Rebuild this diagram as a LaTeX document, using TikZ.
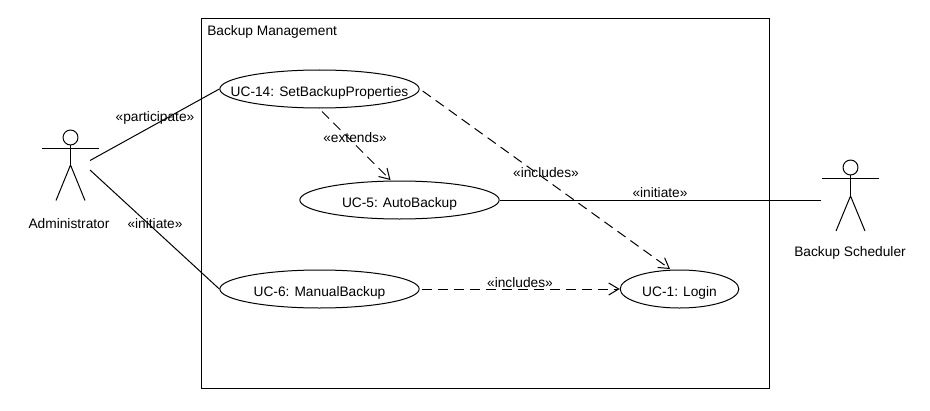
\documentclass[tikz,border=0pt]{standalone}
\usepackage{fontspec}
\setmainfont{Liberation Sans}
\usetikzlibrary{shapes.geometric,arrows.meta}
\tikzset{
  uc/.style={draw=black,ellipse,line width=0.75pt,inner xsep=-30pt,inner ysep=-12pt,minimum width=149.5pt,minimum height=28.5pt,text height=11.5pt,text depth=1pt,font=\fontsize{10.3}{12}\selectfont},
  lbl/.style={inner sep=0pt,yshift=-0.3pt,font=\fontsize{10.3}{12}\selectfont},
  assoc/.style={draw=black,line width=0.75pt},
  dep/.style={draw=black,line width=0.75pt,dash pattern=on 7.5pt off 4.5pt,-{Straight Barb[length=7.5pt,width=9pt,line width=0.75pt]}},
  stick/.style={draw=black,line width=0.75pt},
}
\begin{document}
\begin{tikzpicture}[x=0.75pt,y=-0.75pt]
\useasboundingbox (0,0) rectangle (930,410);
\fill[white] (0,0) rectangle (930,410);
% system boundary
\node[draw=black,line width=0.75pt,minimum width=426.4pt,minimum height=276.8pt,inner sep=0pt] (sys) at (485.3,203.5) {};
\node[lbl,anchor=west] (title) at (207,32) {Backup Management};
% use cases
\node[uc] (uc14) at (319.5,89) {UC-14: SetBackupProperties};
\node[uc] (uc5) at (399.5,200) {UC-5: AutoBackup};
\node[uc] (uc6) at (319.5,289) {UC-6: ManualBackup};
\node[uc,minimum width=89pt] (uc1) at (679.5,289) {UC-1: Login};
% left actor
\node[draw=black,circle,line width=0.75pt,inner sep=0pt,minimum size=11.2pt] (adminhead) at (70.5,137.5) {};
\coordinate (adminhip) at (70.5,165);
\draw[stick] (adminhead.south) -- (adminhip);
\draw[stick] (42,148) -- (99,148);
\draw[stick] (56,200.5) -- (adminhip) -- (85,200.5);
\node[lbl] (admin) at (69,223) {Administrator};
\coordinate (adminA) at (90,160.5);
\coordinate (adminB) at (90,170);
% right actor
\node[draw=black,circle,line width=0.75pt,inner sep=0pt,minimum size=11.2pt] (schedhead) at (850.5,167.5) {};
\coordinate (schedhip) at (850.5,196);
\draw[stick] (schedhead.south) -- (schedhip);
\draw[stick] (822,178) -- (879,178);
\draw[stick] (836,231) -- (schedhip) -- (865,231);
\node[lbl] (sched) at (850,253) {Backup Scheduler};
\coordinate (schedA) at (821,200);
% connectors
\draw[assoc] (adminA) -- (uc14.west);
\draw[assoc] (adminB) -- (uc6.west);
\draw[assoc] (uc5.east) -- (schedA);
\draw[dep] ([shift={(2.5,3)}]uc14.south) -- ([shift={(-9,-0.5)}]uc5.north);
\draw[dep] ([shift={(3,2)}]uc14.east) -- ([shift={(-9.5,-0.5)}]uc1.north);
\draw[dep] ([shift={(2,0)}]uc6.east) -- (uc1.west);
% labels
\node[lbl] (l1) at (155,118) {«participate»};
\node[lbl] (l2) at (155,223) {«initiate»};
\node[lbl] (l3) at (355,137) {«extends»};
\node[lbl] (l4) at (546,172) {«includes»};
\node[lbl] (l5) at (660,192) {«initiate»};
\node[lbl] (l6) at (520,282) {«includes»};
\end{tikzpicture}
\end{document}
